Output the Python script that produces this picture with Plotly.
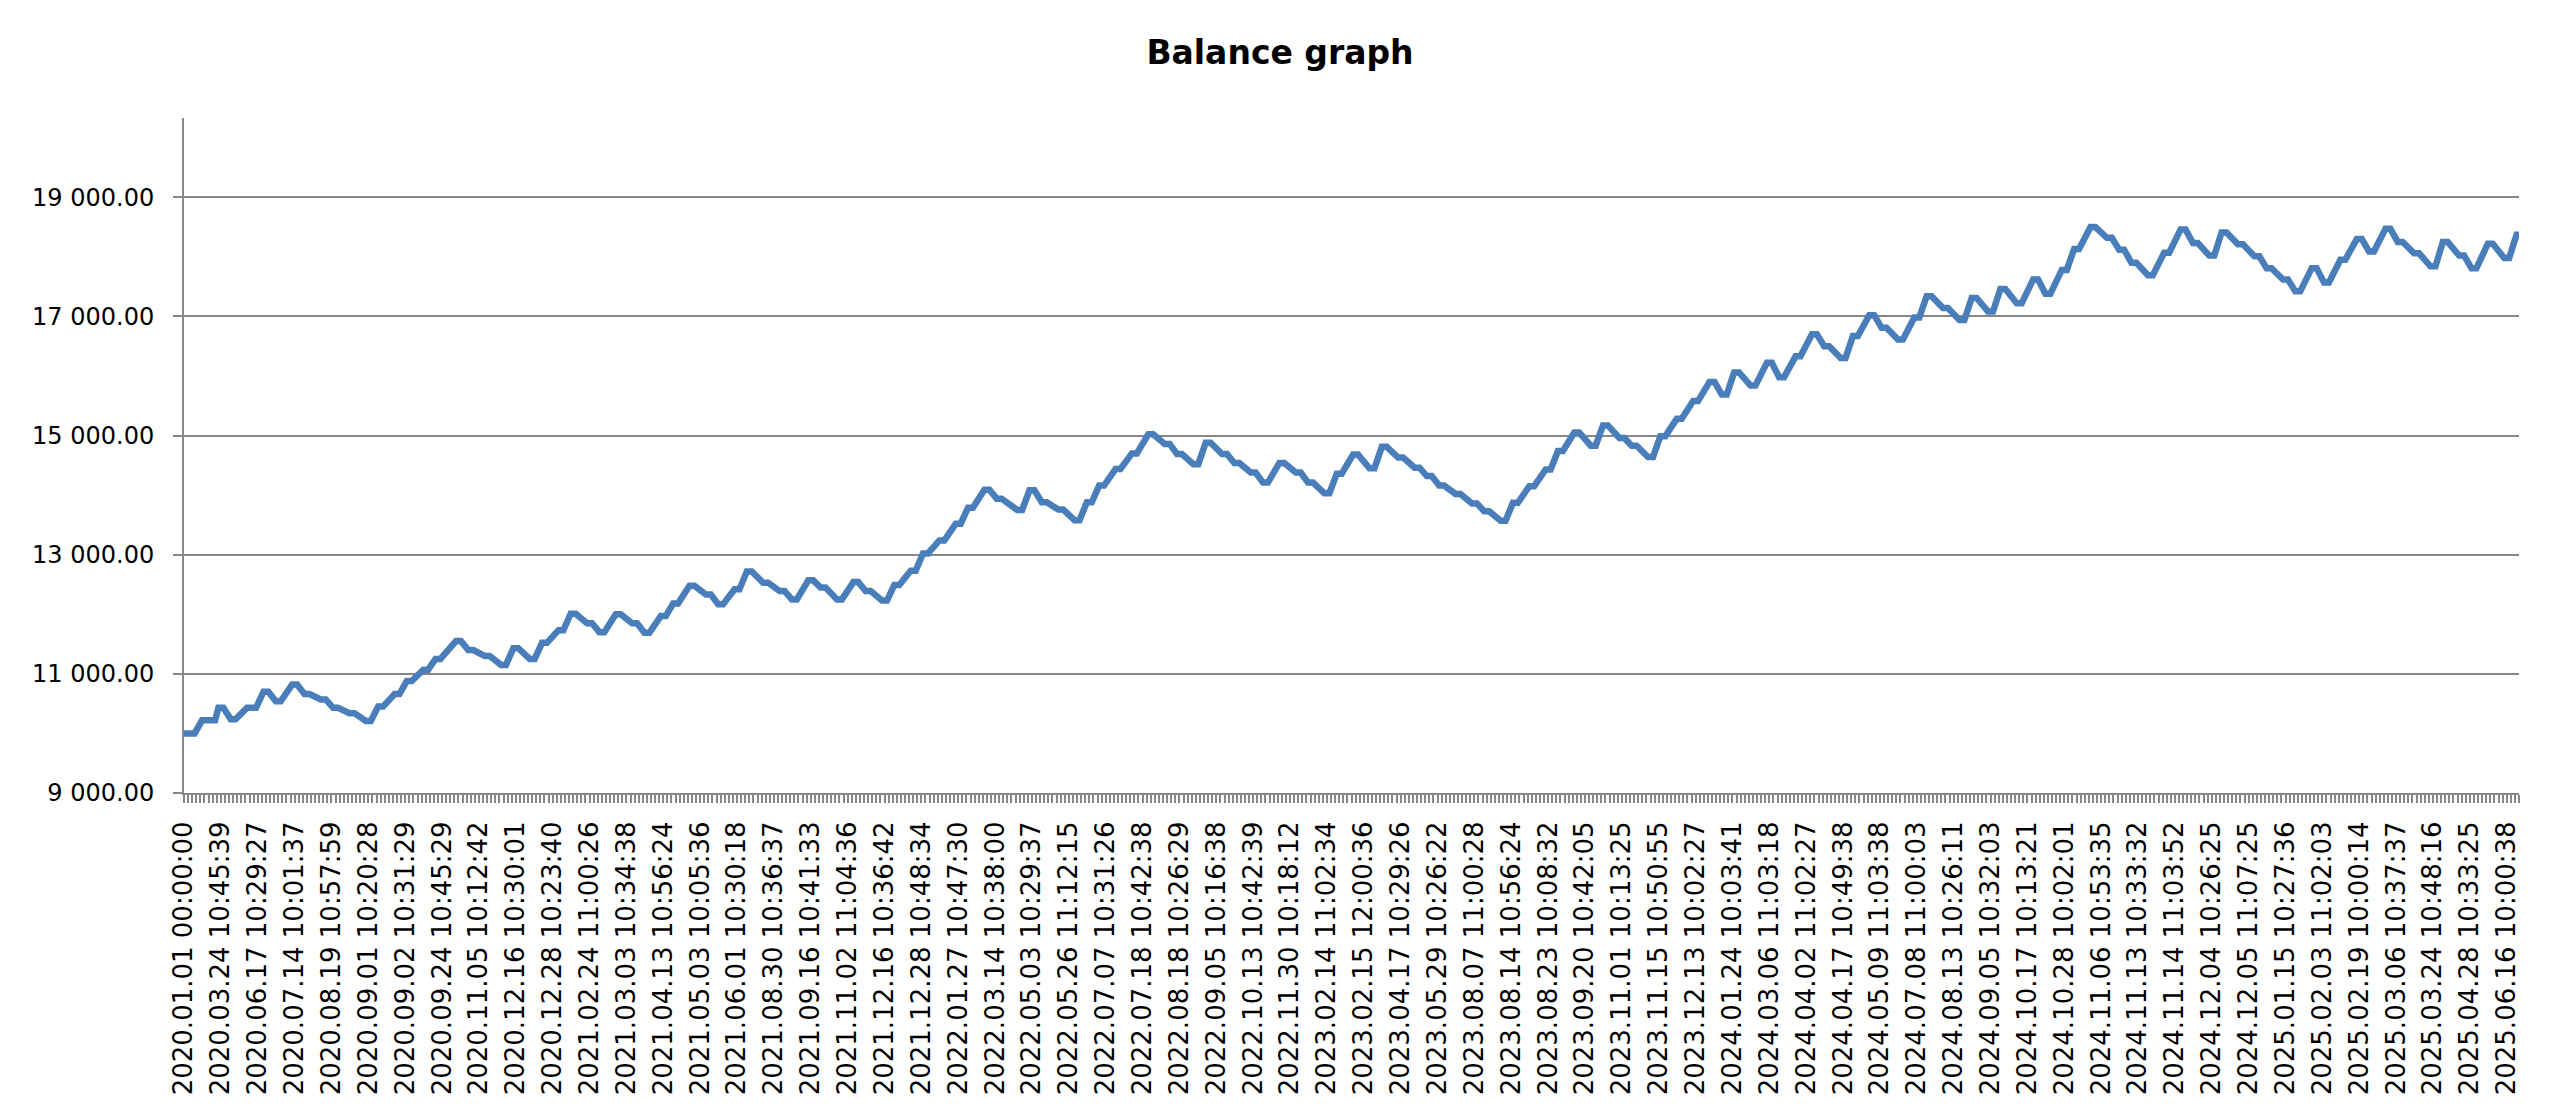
import plotly.graph_objects as go

# Category labels shown every 9th category (571 categories, index 0..570)
time_labels = [
    "2020.01.01 00:00:00", "2020.03.24 10:45:39", "2020.06.17 10:29:27", "2020.07.14 10:01:37",
    "2020.08.19 10:57:59", "2020.09.01 10:20:28", "2020.09.02 10:31:29", "2020.09.24 10:45:29",
    "2020.11.05 10:12:42", "2020.12.16 10:30:01", "2020.12.28 10:23:40", "2021.02.24 11:00:26",
    "2021.03.03 10:34:38", "2021.04.13 10:56:24", "2021.05.03 10:05:36", "2021.06.01 10:30:18",
    "2021.08.30 10:36:37", "2021.09.16 10:41:33", "2021.11.02 11:04:36", "2021.12.16 10:36:42",
    "2021.12.28 10:48:34", "2022.01.27 10:47:30", "2022.03.14 10:38:00", "2022.05.03 10:29:37",
    "2022.05.26 11:12:15", "2022.07.07 10:31:26", "2022.07.18 10:42:38", "2022.08.18 10:26:29",
    "2022.09.05 10:16:38", "2022.10.13 10:42:39", "2022.11.30 10:18:12", "2023.02.14 11:02:34",
    "2023.02.15 12:00:36", "2023.04.17 10:29:26", "2023.05.29 10:26:22", "2023.08.07 11:00:28",
    "2023.08.14 10:56:24", "2023.08.23 10:08:32", "2023.09.20 10:42:05", "2023.11.01 10:13:25",
    "2023.11.15 10:50:55", "2023.12.13 10:02:27", "2024.01.24 10:03:41", "2024.03.06 11:03:18",
    "2024.04.02 11:02:27", "2024.04.17 10:49:38", "2024.05.09 11:03:38", "2024.07.08 11:00:03",
    "2024.08.13 10:26:11", "2024.09.05 10:32:03", "2024.10.17 10:13:21", "2024.10.28 10:02:01",
    "2024.11.06 10:53:35", "2024.11.13 10:33:32", "2024.11.14 11:03:52", "2024.12.04 10:26:25",
    "2024.12.05 11:07:25", "2025.01.15 10:27:36", "2025.02.03 11:02:03", "2025.02.19 10:00:14",
    "2025.03.06 10:37:37", "2025.03.24 10:48:16", "2025.04.28 10:33:25", "2025.06.16 10:00:38",
]
label_positions = [i * 9 for i in range(len(time_labels))]
n_categories = 571

# Balance curve: category index and balance at each step
point_index = [
    0, 2, 5, 7, 9, 12, 16, 17, 20, 23, 27, 30, 34, 37, 41, 45, 48, 52, 55, 59,
    62, 67, 70, 74, 78, 81, 85, 88, 92, 95, 99, 102, 106, 110, 113, 117, 120, 124, 128, 131,
    135, 138, 142, 146, 149, 153, 156, 160, 164, 167, 171, 174, 178, 181, 185, 189, 192, 196, 199, 204,
    207, 210, 214, 218, 221, 224, 228, 232, 236, 240, 243, 247, 250, 254, 257, 261, 264, 268, 272, 275,
    279, 282, 286, 290, 293, 297, 301, 304, 307, 311, 315, 318, 322,
    325, 329, 333, 336, 340, 344, 347, 351, 354, 358, 361, 365, 369, 373, 376, 379, 383, 387, 390, 394,
    398, 401, 405, 408, 412, 415, 419, 423, 426, 430, 434, 437, 441, 444, 448, 452, 455, 459, 462, 466,
    470, 473, 476, 480, 484, 488, 491, 495, 498, 502, 506, 509, 513, 516, 520, 523, 527, 531, 534, 538,
    541, 545, 549, 552, 556, 559, 563, 567, 570,
]
balance = [
    10000, 10000, 10220, 10220, 10430, 10240, 10430, 10430, 10700, 10540, 10820, 10660, 10570, 10430, 10340, 10210, 10450, 10660, 10880, 11070,
    11250, 11550, 11400, 11300, 11150, 11430, 11250, 11520, 11730, 12010, 11850, 11700, 12000, 11850, 11690, 11970, 12180, 12480, 12330, 12170,
    12420, 12720, 12530, 12390, 12250, 12570, 12450, 12250, 12540, 12390, 12230, 12490, 12730, 13020, 13240, 13520, 13790, 14090, 13940, 13750,
    14080, 13880, 13760, 13580, 13880, 14160, 14440, 14700, 15020, 14860, 14690, 14520, 14880, 14690, 14540, 14380, 14210, 14540, 14380, 14210,
    14030, 14360, 14680, 14450, 14810, 14630, 14460, 14320, 14160, 14020, 13860, 13730, 13570,
    13870, 14150, 14430, 14740, 15050, 14830, 15170, 14960, 14830, 14640, 14990, 15280, 15580, 15900, 15690, 16060, 15840, 16220, 15980, 16330,
    16700, 16500, 16300, 16670, 17020, 16810, 16610, 16980, 17340, 17140, 16940, 17310, 17080, 17460, 17220, 17620, 17380, 17780, 18130, 18500,
    18320, 18120, 17900, 17690, 18070, 18460, 18230, 18020, 18410, 18210, 18010, 17810, 17620, 17420, 17810, 17570, 17950, 18300, 18090, 18470,
    18250, 18060, 17840, 18250, 18020, 17810, 18220, 17980, 18370,
]

y_tick_values = [9000, 11000, 13000, 15000, 17000, 19000]
y_tick_text = ["9 000.00", "11 000.00", "13 000.00", "15 000.00", "17 000.00", "19 000.00"]

W, H = 2560, 1113
AX = "#878787"
STEP_FLAT = 0.6  # half-width (in categories) of the short level stretch at each step

# each step of the balance curve is drawn as a short level stretch
line_x, line_y = [], []
last = n_categories - 1
for i, v in zip(point_index, balance):
    a, b = max(0, i - STEP_FLAT), min(last, i + STEP_FLAT)
    line_x += [a, b]
    line_y += [v, v]

fig = go.Figure()
fig.add_trace(go.Scatter(
    x=line_x, y=line_y, mode="lines",
    line=dict(color="#4a7ebb", width=6.5, shape="linear"),
    hoverinfo="skip", showlegend=False,
))

fig.update_layout(
    width=W, height=H,
    margin=dict(l=184, r=41, t=118, b=320, pad=0),
    paper_bgcolor="white", plot_bgcolor="white",
    font=dict(family="DejaVu Sans", color="black", size=24),
    title=dict(text="<b>Balance graph</b>", x=0.5, xanchor="center",
               y=1 - 52 / H, yanchor="middle", yref="container",
               font=dict(family="DejaVu Sans", size=33, color="black")),
    xaxis=dict(
        range=[0, last], showgrid=False, zeroline=False,
        showline=True, linecolor=AX, linewidth=2,
        tickmode="array", tickvals=label_positions, ticktext=time_labels,
        tickangle=-90, ticks="outside", ticklen=8, tickwidth=2, tickcolor=AX,
        ticklabelstandoff=8,
        tickfont=dict(family="DejaVu Sans", size=26, color="black"),
        minor=dict(tick0=0, dtick=1, ticks="outside", ticklen=8, tickwidth=2, tickcolor=AX, showgrid=False),
    ),
    yaxis=dict(
        range=[9000, 20330], showgrid=True, gridcolor=AX, gridwidth=2,
        zeroline=False, showline=True, linecolor=AX, linewidth=2,
        tickmode="array", tickvals=y_tick_values, ticktext=y_tick_text,
        ticks="outside", ticklen=9, tickwidth=2, tickcolor=AX,
        ticklabelstandoff=14,
        tickfont=dict(family="DejaVu Sans", size=24, color="black"),
    ),
)

fig.write_html("out.html", include_plotlyjs=True, full_html=True,
               config={"displayModeBar": False},
               post_script="document.body.style.margin='0';")
